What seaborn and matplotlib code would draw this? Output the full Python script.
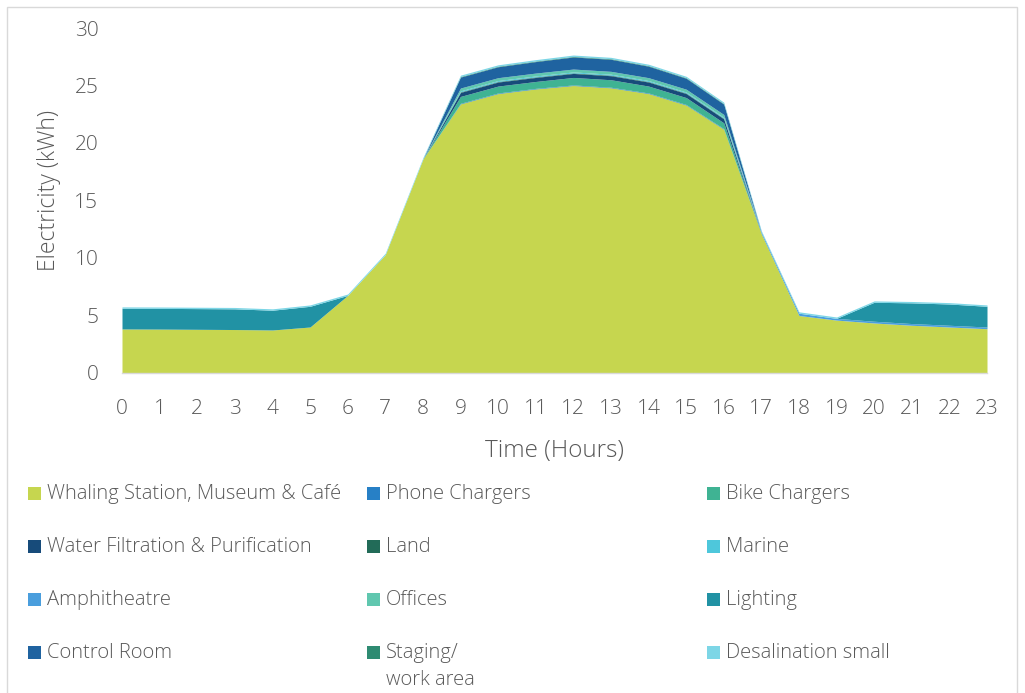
import matplotlib
matplotlib.use("Agg")
import matplotlib.pyplot as plt
from matplotlib.patches import Rectangle
import seaborn as sns

# Hourly electricity demand by load (kWh)
hours = list(range(24))

whaling = [3.83, 3.82, 3.8, 3.78, 3.74, 4.0, 6.75, 10.3, 18.6, 23.4, 24.3, 24.7,
           25.0, 24.8, 24.3, 23.3, 21.2, 12.1, 5.0, 4.6, 4.35, 4.15, 4.0, 3.85]
phone_chargers = [0] * 9 + [0.05] * 8 + [0] * 7
bike_chargers = [0] * 9 + [0.6, 0.6, 0.6, 0.65, 0.65, 0.6, 0.6, 0.5] + [0] * 7
water_filtration = [0] * 9 + [0.35] * 8 + [0] * 7
land = [0] * 9 + [0.05] * 8 + [0] * 7
marine = [0] * 9 + [0.08] * 8 + [0] * 7
amphitheatre = [0] * 17 + [0.15, 0.2, 0.15, 0.15, 0.15, 0.15, 0.15]
offices = [0] * 9 + [0.25] * 8 + [0] * 7
lighting = [1.8, 1.8, 1.8, 1.8, 1.72, 1.8, 0, 0, 0, 0, 0, 0,
            0, 0, 0, 0, 0, 0, 0, 0, 1.65, 1.8, 1.85, 1.8]
control_room = [0] * 9 + [0.95, 0.95, 1.0, 1.05, 1.05, 1.0, 0.95, 0.9] + [0] * 7
staging = [0] * 9 + [0.05] * 8 + [0] * 7
desalination = [0.12] * 24

series_names = ["Whaling Station, Museum & Café", "Phone Chargers", "Bike Chargers",
                "Water Filtration & Purification", "Land", "Marine",
                "Amphitheatre", "Offices", "Lighting",
                "Control Room", "Staging/\nwork area", "Desalination small"]
series_values = [whaling, phone_chargers, bike_chargers, water_filtration, land, marine,
                 amphitheatre, offices, lighting, control_room, staging, desalination]
series_colors = ["#C6D64F", "#2780C6", "#3FB393", "#174B7A", "#226B58", "#4EC7DB",
                 "#4A9EDD", "#60C7AF", "#2192A4", "#1F63A0", "#2E8B72", "#7DD6E6"]

sns.set_theme(style="white")
plt.rcParams["font.family"] = ["Open Sans", "DejaVu Sans"]
text_color = "#595959"
palette = sns.color_palette(series_colors)

fig = plt.figure(figsize=(10.25, 6.93), dpi=100)
ax = fig.add_axes([122 / 1025, 1 - 373 / 693, 865 / 1025, 345 / 693])

ax.stackplot(hours, *series_values, colors=palette, linewidth=0)

ax.set_xlim(0, 23)
ax.set_ylim(0, 30)
ax.set_xticks(hours)
ax.set_yticks(range(0, 31, 5))
ax.tick_params(axis="both", length=0, labelsize=15, labelcolor=text_color)
ax.tick_params(axis="x", pad=19)
ax.tick_params(axis="y", pad=17)
for lbl in ax.get_xticklabels() + ax.get_yticklabels():
    lbl.set_fontweight("light")

for side in ["top", "right", "left"]:
    ax.spines[side].set_visible(False)
ax.spines["bottom"].set_color("#D9D9D9")
ax.spines["bottom"].set_linewidth(1.0)
ax.grid(False)

ax.set_xlabel("Time (Hours)", fontsize=17.5, color=text_color, fontweight="light")
ax.xaxis.set_label_coords(0.5, -0.192)
ax.set_ylabel("Electricity (kWh)", fontsize=16.5, color=text_color, fontweight="light")
ax.yaxis.set_label_coords(-0.071, 0.53)

# Legend: three columns, four rows
col_x = [28, 367, 707]
row_y = [493, 546, 599, 652]
W, H = 1025, 693
for i, (name, color) in enumerate(zip(series_names, palette)):
    r, c = divmod(i, 3)
    x, y = col_x[c], row_y[r]
    fig.patches.append(Rectangle((x / W, 1 - (y + 6.5) / H), 13 / W, 13 / H,
                                 transform=fig.transFigure, facecolor=color,
                                 edgecolor="none"))
    lines = name.split("\n")
    for k, line in enumerate(lines):
        fig.text((x + 19) / W, 1 - (y + 1 + 27 * k) / H, line, fontsize=14.5,
                 color=text_color, fontweight="light", va="center", ha="left")

# Chart area border
fig.patches.append(Rectangle((7 / W, -0.05), 1010 / W, 1 - 7 / H + 0.05,
                             transform=fig.transFigure, facecolor="none",
                             edgecolor="#D9D9D9", linewidth=1.0))

fig.savefig("out.png", dpi=100)
